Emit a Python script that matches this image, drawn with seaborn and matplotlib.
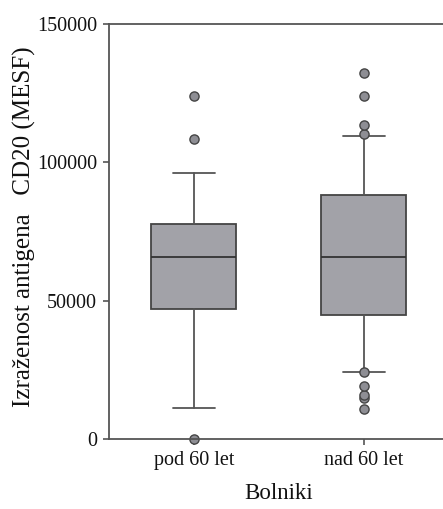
import matplotlib
matplotlib.use("Agg")
import matplotlib.pyplot as plt
import seaborn as sns

# Data
groups = ["pod 60 let", "nad 60 let"]
whisker_low = [11000, 24000]
q1 = [47000, 44700]
median = [65600, 65600]
q3 = [77900, 88200]
whisker_high = [96300, 109500]
outliers = [
    [0, 108400, 123900],
    [10700, 14600, 15800, 19000, 24000, 110400, 113400, 123900, 132300],
]
y_ticks = [0, 50000, 100000, 150000]

sns.set_style("ticks")
plt.rcParams["font.family"] = ["Liberation Serif", "DejaVu Serif"]

fig = plt.figure(figsize=(4.43, 5.09), dpi=100)
ax = fig.add_axes([0.246, 0.1381, 0.7675, 0.8141])

stats = []
for i, g in enumerate(groups):
    stats.append(dict(label=g, whislo=whisker_low[i], q1=q1[i], med=median[i],
                      q3=q3[i], whishi=whisker_high[i], fliers=outliers[i]))

line_c = "#555555"
ax.bxp(stats, positions=range(len(groups)), widths=0.5, patch_artist=True,
       showfliers=True,
       boxprops=dict(facecolor="#a2a2a8", edgecolor="#444444", linewidth=1.3),
       medianprops=dict(color="#333333", linewidth=1.3),
       whiskerprops=dict(color=line_c, linewidth=1.3),
       capprops=dict(color=line_c, linewidth=1.3),
       capwidths=0.25,
       flierprops=dict(marker="o", markerfacecolor="#8e8e94", markeredgecolor="#444444",
                       markersize=6.6, markeredgewidth=1.0, clip_on=False))
for art in ax.lines:
    art.set_clip_on(False)

ax.set_xlim(-0.5, 1.5)
ax.set_ylim(0, 150000)
ax.set_yticks(y_ticks)
ax.set_yticklabels([str(v) for v in y_ticks])
ax.set_xticks(range(len(groups)))
ax.set_xticklabels(groups)

for side in ["left", "bottom", "top"]:
    ax.spines[side].set_visible(True)
    ax.spines[side].set_color("#555555")
    ax.spines[side].set_linewidth(1.3)
ax.spines["right"].set_visible(False)
ax.tick_params(axis="both", direction="out", length=4.2, width=1.2, color="#555555",
               labelsize=14.5, labelcolor="#111111")
ax.tick_params(axis="y", pad=4.5)
ax.tick_params(axis="x", pad=5)

ax.set_ylabel("Izraženost antigena   CD20 (MESF)", fontsize=18, color="#111111")
ax.yaxis.set_label_coords(-0.216, 0.512)
ax.set_xlabel("Bolniki", fontsize=16.5, color="#111111", labelpad=9)
ax.set_facecolor("white")
fig.patch.set_facecolor("white")

fig.savefig("out.png", dpi=100)
